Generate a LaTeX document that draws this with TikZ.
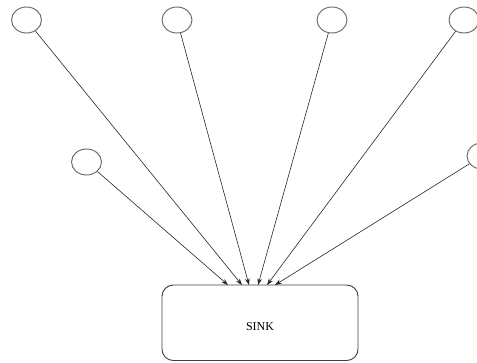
\documentclass[tikz,border=0pt]{standalone}
\usepackage{fontspec}
\setmainfont{Liberation Serif}
\usetikzlibrary{shapes.geometric,arrows.meta}
\begin{document}
\begin{tikzpicture}[x=0.75pt,y=-0.75pt,
  sensor/.style={ellipse,draw=black!60,line width=0.7pt,inner sep=0pt,minimum width=22.5pt,minimum height=19.5pt},
  sinkbox/.style={draw=black!75,line width=0.7pt,rounded corners=8.5pt},
  link/.style={draw=black!85,line width=0.45pt,-{Stealth[length=5pt,width=3.5pt]}}]
  \useasboundingbox (0,0) rectangle (477,362);
  % sensor nodes
  \node[sensor] (n1) at (26.5,20) {};
  \node[sensor] (n2) at (177,20) {};
  \node[sensor] (n3) at (332,20) {};
  \node[sensor] (n4) at (464,20) {};
  \node[sensor] (n5) at (86.5,162) {};
  \node[sensor] (n6) at (482,156) {};
  % sink
  \draw[sinkbox] (162,285) rectangle (358,360.5);
  \node[font=\fontsize{9}{10}\selectfont] (sink) at (260,327) {SINK};
  % entry points on the top edge of the sink
  \coordinate (t5) at (228,285);
  \coordinate (t1) at (242,285);
  \coordinate (t2) at (249,285);
  \coordinate (t3) at (258,285);
  \coordinate (t4) at (267,285);
  \coordinate (t6) at (275,285);
  % links
  \foreach \i in {1,...,6} \draw[link] (n\i) -- (t\i);
\end{tikzpicture}
\end{document}
